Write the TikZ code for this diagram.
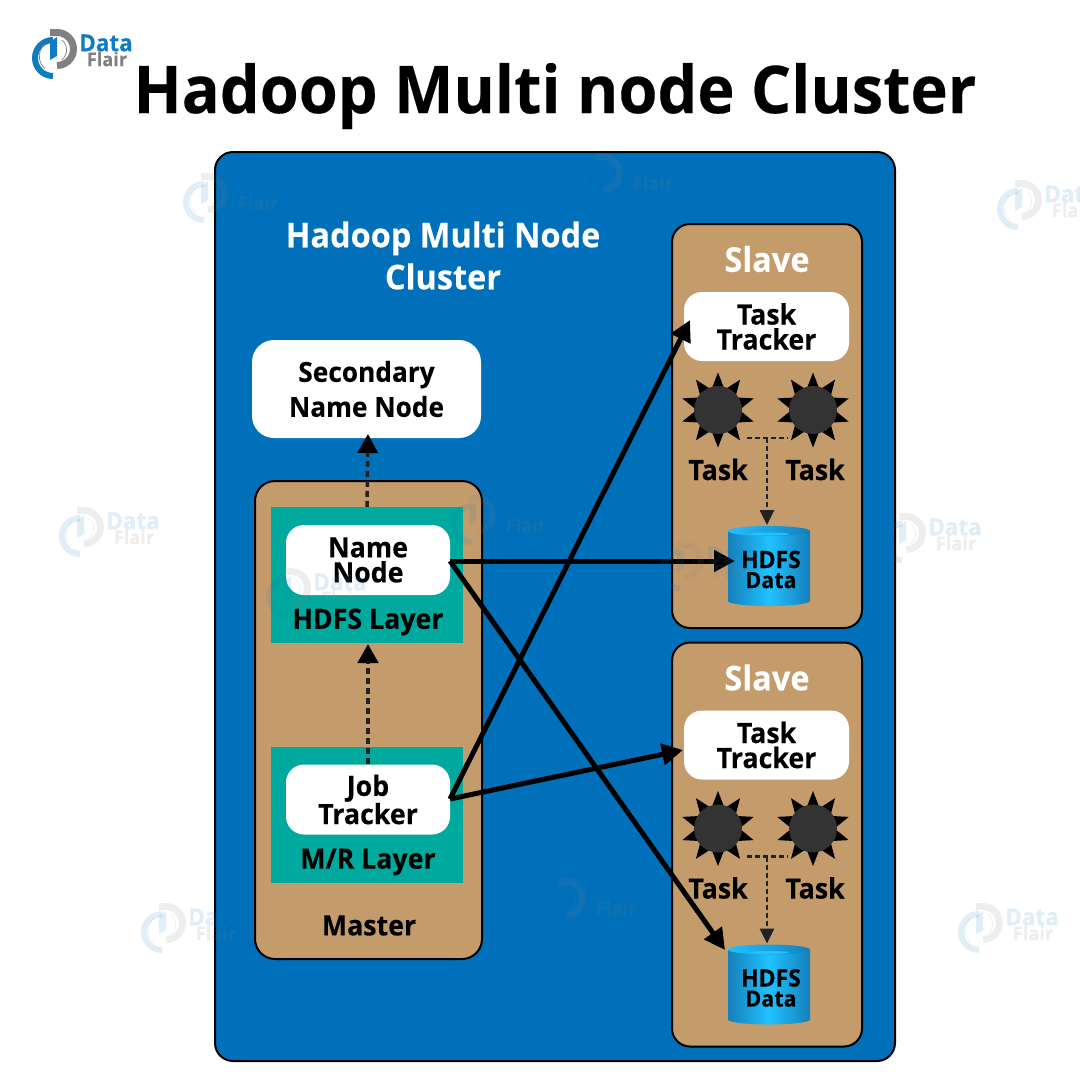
\documentclass[tikz,border=0pt]{standalone}
\usepackage{fontspec}
\setmainfont{Open Sans}[BoldFont={Open Sans Bold},BoldFeatures={FakeStretch=0.955,FakeBold=0.2}]
\usetikzlibrary{arrows.meta,shapes.geometric}
\definecolor{mainblue}{HTML}{0070BB}
\definecolor{tan}{HTML}{C49C6C}
\definecolor{teal2}{HTML}{00A99D}
\definecolor{logoblue}{HTML}{0F7CC2}
\definecolor{logogray}{HTML}{808080}
\definecolor{dark}{HTML}{222222}
\definecolor{orb}{HTML}{333333}
\definecolor{cylE}{HTML}{1580BC}
\definecolor{cylM}{HTML}{20C2FF}
\tikzset{
  x=1pt,y=-1pt,
  panel/.style={draw=black,line width=2pt,rounded corners=#1,inner sep=0pt},
  whitebox/.style={fill=white,rounded corners=#1,inner sep=0pt,align=center,font=\bfseries\fontsize{28}{25}\selectfont},
  teallayer/.style={fill=teal2,inner sep=0pt,minimum width=192pt,minimum height=136pt},
  lab/.style={inner sep=0pt,align=center,font=\bfseries\fontsize{28}{25}\selectfont},
  whitelab/.style={inner sep=0pt,align=center,text=white,font=\bfseries\fontsize{#1}{42}\selectfont},
  flow/.style={line width=5pt,-{Triangle[length=21pt,width=21pt]}},
  dashthick/.style={dark,line width=4pt,dash pattern=on 6pt off 4pt,-{Triangle[length=19pt,width=20pt,color=black]}},
  dashthin/.style={dark,line width=2.6pt,dash pattern=on 5pt off 3pt},
  taskstar/.style={star,star points=10,star point ratio=1.75,fill=black,draw=none,minimum size=75pt,inner sep=0pt},
  dflogo/.pic={
    \draw[logoblue,line width=6pt] (53,40) arc[start angle=270,end angle=90,radius=18];
    \fill[logoblue] (50,60) -- (50,42) -- (57,37) -- (57,56) -- cycle;
    \draw[logogray,line width=7pt] (50,32.5) -- (57,32.5) arc[start angle=-90,end angle=90,radius=16.5];
    \draw[logogray,line width=.7pt] (45,44) arc[start angle=230,end angle=130,radius=16];
    \draw[logogray,line width=.7pt] (62,40) arc[start angle=-50,end angle=50,radius=13];
    \node[inner sep=0pt,text=logoblue,font=\bfseries\fontsize{23.5}{24}\selectfont] (-d) at (106,43) {Data};
    \node[inner sep=0pt,text=logogray,font=\bfseries\fontsize{19}{19}\selectfont] (-f) at (107,59) {Flair};
  }
}
\newcommand{\hdfscyl}[2]{%
  \shade[left color=cylE,right color=cylE,middle color=cylM]
    (728,#1+5) -- (728,#1+75) arc[x radius=41,y radius=5,start angle=180,end angle=0] -- (810,#1+5) -- cycle;
  \shade[left color=cylM,right color=cylE] (769,#1+5) ellipse[x radius=41,y radius=5];
  \fill[cylM] (769,#1+8) ellipse[x radius=20,y radius=1.5];
  \node[lab,font=\bfseries\fontsize{24}{20}\selectfont,minimum width=82pt,minimum height=80pt] (#2) at (771,#1+43.5) {HDFS\\\fontsize{22.5}{20}\selectfont Data};
}
\begin{document}
\begin{tikzpicture}
\useasboundingbox (0,0) rectangle (1080,1080);
\fill[white] (0,0) rectangle (1080,1080);
\node[inner sep=0pt,font=\bfseries\fontsize{66}{66}\selectfont] (title) at (555,96) {Hadoop Multi node Cluster};
\node[panel=18pt,fill=mainblue,minimum width=680pt,minimum height=909pt] (main) at (555,606.5) {};
\node[whitelab=34] (head) at (443,255.5) {Hadoop Multi Node\\Cluster};
% Secondary
\node[whitebox=22pt,minimum width=229pt,minimum height=98pt,font=\bfseries\fontsize{27.5}{35}\selectfont] (snn) at (366.5,389) {Secondary\\Name Node};
% Master
\node[panel=20pt,fill=tan,minimum width=227pt,minimum height=478pt] (master) at (368.5,720) {};
\node[teallayer] (hdfsL) at (367,575) {};
\node[teallayer] (mrL) at (367,815) {};
\node[whitebox=18pt,minimum width=164pt,minimum height=70pt] (nn) at (368,560) {Name\\Node};
\node[whitebox=18pt,minimum width=164pt,minimum height=70pt] (jt) at (368,799.5) {Job\\Tracker};
\node[lab] (hl) at (368,622) {HDFS Layer};
\node[lab] (ml) at (368,862) {M/R Layer};
\node[lab] (mastertxt) at (369,925.5) {Master};
% Slaves
\foreach \s/\o in {a/0,b/418.5}{
  \node[panel=18pt,fill=tan,minimum width=190pt,minimum height=404pt] (sl\s) at (767,426+\o) {};
  \node[whitelab=34] (sltxt\s) at (767,259+\o) {Slave};
  \node[whitebox=18pt,minimum width=165pt,minimum height=69pt] (tt\s) at (766.5,326.5+\o) {Task\\Tracker};
  \node[taskstar] (st1\s) at (718,410+\o) {};
  \node[taskstar] (st2\s) at (813,410+\o) {};
  \fill[orb] (st1\s.center) circle[radius=24];
  \fill[orb] (st2\s.center) circle[radius=24];
  \node[lab] (t1\s) at (718,469.5+\o) {Task};
  \node[lab] (t2\s) at (815,469.5+\o) {Task};
  \pgfmathsetmacro{\cy}{526+\o}
  \hdfscyl{\cy}{cyl\s}
  \coordinate (jl\s) at (747,438+\o);
  \coordinate (jr\s) at (788,438+\o);
  \coordinate (jm\s) at (767,438+\o);
  \coordinate (jb\s) at (767,525+\o);
  \draw[dashthin] (jl\s) -- (jr\s);
  \draw[dashthin,-{Triangle[length=15pt,width=14pt]}] (jm\s) -- (jb\s);
}
% Connectors
\coordinate (tipA) at (690,320);
\coordinate (tipB) at (683,750);
\coordinate (tipC) at (735,561);
\coordinate (tipD) at (725,950);
\coordinate (nnr) at (450,561);
\coordinate (jtr) at (450,799);
\draw[flow] (nnr) -- (tipC);
\draw[flow] (nnr) -- (tipD);
\draw[flow] (jtr) -- (tipA);
\draw[flow] (jtr) -- (tipB);
\coordinate (snnb) at (368,434);
\coordinate (hb) at (368,644);
\draw[dashthick,line width=3.5pt] (hdfsL.north) -- (snnb);
\draw[dashthick,line width=4.5pt] (jt.north) -- (hb);
% Logo + watermarks
\pic (logo) at (0,0) {dflogo};
\foreach \n/\dx/\dy in {w1/151/144,w2/546/124,w3/965/151,w4/27/478,w5/419/466,w6/849/484,w7/234/539,w8/627/512,w9/109/874,w10/509/849,w11/926/874}{
  \begin{scope}[opacity=.13]
    \pic (\n) at (\dx,\dy) {dflogo};
  \end{scope}
}
\end{tikzpicture}
\end{document}
